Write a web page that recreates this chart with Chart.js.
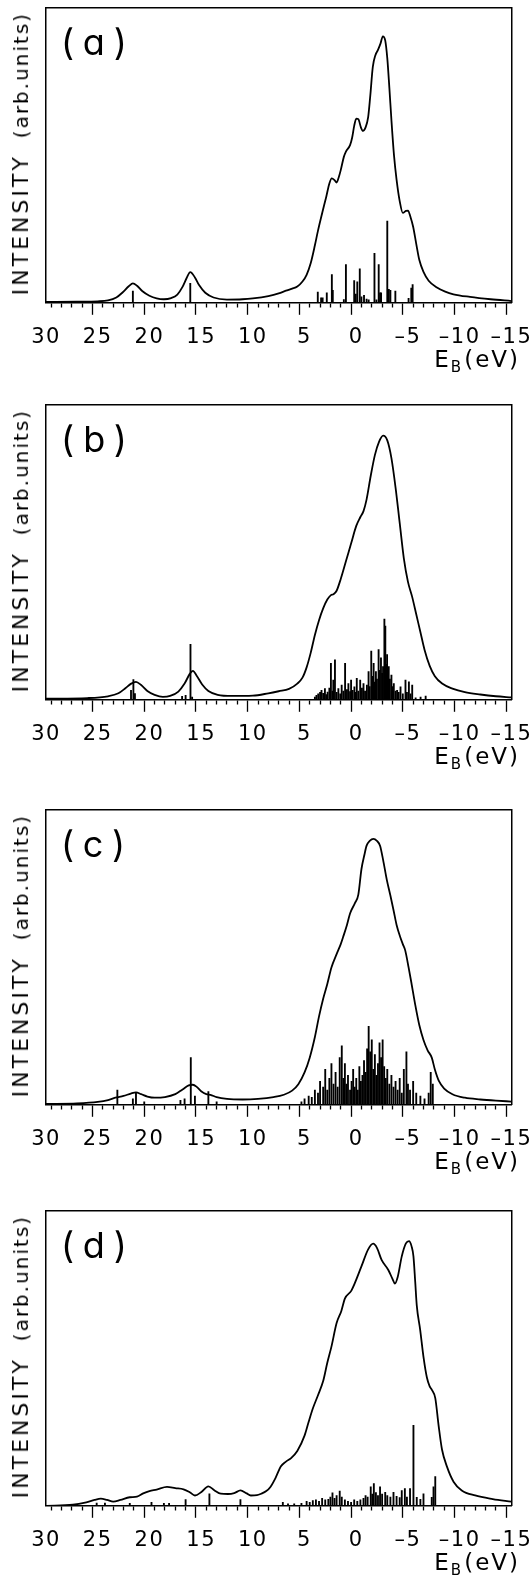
<!DOCTYPE html>
<html>
<head>
<meta charset="utf-8">
<script src="https://cdn.jsdelivr.net/npm/chart.js@4.4.0/dist/chart.umd.min.js"></script>
<style>
body{margin:0;background:#fff;width:530px;height:1576px;position:relative;overflow:hidden}
.panel{position:absolute;left:0;width:530px;height:359px}
.ylab{position:absolute;left:8px;writing-mode:vertical-rl;transform:rotate(180deg);font:20px "DejaVu Sans";letter-spacing:2px;white-space:nowrap;color:#000}
.ylab .big{font-size:22px;letter-spacing:3px;margin-inline-end:16px}
.tag{position:absolute;left:61px;font:36px Inter;font-feature-settings:"cv11";letter-spacing:9px;color:#000}
.eb{position:absolute;right:10px;font:23px "DejaVu Sans";letter-spacing:2px;color:#000}
.eb span{font-size:15px;position:relative;top:5px;letter-spacing:3px}
</style>
</head>
<body>
<script>
// axe des énergies
const majorTicks = [30,25,20,15,10,5,0,-5,-10,-15]
const tickLabels = ['30','25','20','15','10','5','0','–5','–10','–15']
const panelTags = ['(a)','(b)','(c)','(d)']
const panelTops = [8,405,810,1211]

// (a) courbe + raies
const aCurveE = [30,27,25,24,23.2,22.6,22.0,21.6,21.2,20.7,20.0,19.3,18.6,17.9,17.3,16.8,16.4,16.05,15.6,15.2,14.6,13.8,12.5,11,10,8.5,7.5,6.8,6.2,5.7,5.2,4.8,4.4,4.0,3.7,3.3,2.9,2.6,2.37,2.1,1.9,1.7,1.5,1.2,1.0,0.6,0.4,0.2,0.0,-0.2,-0.45,-0.65,-0.9,-1.15,-1.35,-1.6,-1.85,-2.1,-2.35,-2.57,-2.8,-3.0,-3.2,-3.4,-3.65,-3.9,-4.2,-4.5,-4.8,-5.0,-5.25,-5.5,-5.8,-6.1,-6.5,-7.0,-7.8,-8.6,-9.4,-11,-13,-15]
const aCurveI = [0.3,0.4,0.5,0.8,1.8,3.5,5.6,6.6,5.8,4.0,2.4,1.5,1.2,1.6,2.8,5.4,8.4,10.4,8.6,6.0,3.4,1.8,1.1,1.2,1.5,2.3,3.2,4.1,4.8,5.5,7.2,9.5,13.5,19.5,24.5,30.4,36,40.5,42.2,41.6,40.8,42.5,45,49.5,51.3,53.5,56,60,62.5,62.3,59.5,58.3,59.5,63,70,80,84,85.8,88,90.4,89,83,73,62,50,41.7,34.5,30.5,31.2,31.3,29,25.8,20,14.5,10.5,7.5,5.2,3.8,2.9,2.0,1.2,0.6]
const aStickE = [21.6,16.05,3.72,3.4,3.25,2.85,2.36,2.27,1.2,1.0,0.2,0.05,-0.1,-0.34,-0.5,-0.75,-1.0,-1.2,-1.76,-1.95,-2.17,-2.3,-2.4,-3.0,-3.15,-3.3,-3.78,-5.06,-5.32,-5.45]
const aStickH = [4,6.6,3.6,1.7,1.7,3.4,9.6,4.2,1.1,13,7.5,3.0,7.1,11.5,2.0,2.5,1.3,1.0,16.8,1.0,13,3.4,3.4,27.7,4.6,4.2,4.0,1.5,5.0,6.2]

// (b)
const bCurveE = [30,26,24,23,22.3,21.8,21.3,20.8,20.2,19.5,18.7,18,17.2,16.6,16.1,15.8,15.4,14.9,14.3,13.4,12,10,8.5,7.5,6.5,5.7,5.2,4.8,4.4,4.0,3.6,3.2,2.8,2.45,2.2,1.9,1.5,1.0,0.5,0.0,-0.4,-0.7,-1.0,-1.4,-1.8,-2.2,-2.6,-3.0,-3.4,-3.8,-4.2,-4.6,-5.0,-5.4,-5.8,-6.2,-6.6,-7.1,-7.6,-8.3,-9.3,-10.5,-12,-13.5,-15]
const bCurveI = [0.4,0.6,1.2,2.2,4.0,5.4,6.1,5.0,3.0,1.7,1.0,1.3,2.8,5.5,8.8,9.8,8.0,5.2,3.0,1.7,1.3,1.4,2.2,2.9,3.7,5.5,7.5,11,16,22,27,31,34,35.5,35.8,37,41,47,53,59,62,64,68,76,83,87.5,89.6,88,82,72,60,48,40,35,29,23,17,11.5,8.0,5.5,3.8,2.6,1.8,1.2,0.8]
const bStickE = [21.78,21.55,21.4,16.84,16.5,16.03,15.87,4.0,3.85,3.68,3.5,3.36,3.2,3.03,2.9,2.77,2.6,2.45,2.3,2.22,2.06,1.9,1.73,1.55,1.41,1.25,1.08,0.9,0.76,0.6,0.5,0.35,0.18,0.05,-0.05,-0.2,-0.38,-0.55,-0.7,-0.85,-1.03,-1.19,-1.3,-1.45,-1.55,-1.68,-1.8,-1.9,-2.0,-2.16,-2.25,-2.39,-2.5,-2.59,-2.72,-2.81,-2.9,-2.98,-3.14,-3.25,-3.4,-3.5,-3.63,-3.8,-3.95,-4.1,-4.28,-4.5,-4.76,-4.9,-5.09,-5.25,-5.41,-5.74,-6.22,-6.71]
const bStickH = [3.2,6.9,2.1,1.2,1.5,18.8,0.9,0.9,1.5,2.0,2.5,3.2,2.2,3.8,1.8,2.6,4.0,12.4,3.0,6.7,13.6,2.5,3.8,2.0,5.0,3.0,12.4,3.5,5.5,2.8,6.7,3.2,4.4,2.5,7.3,3.0,6.7,4.0,5.5,3.0,5.0,9.6,4.5,16.5,8.0,12.4,6.0,9.6,7.0,17,10,14.2,9.0,11.3,27.4,25,12,15.3,11.3,7.0,8.4,4.5,5.5,3.0,3.2,2.5,4.4,2.0,6.7,2.5,6.1,2.0,5.0,0.7,0.9,1.3]

// (c)
const cCurveE = [30,27,25,24,23.3,22.5,21.8,21.3,20.8,20.2,19.5,18.5,17.5,16.8,16.2,15.8,15.4,15.0,14.5,14.1,13.5,12.5,11,9.5,8,7,6.2,5.6,5.0,4.5,4.0,3.6,3.2,2.8,2.4,1.9,1.5,1.27,0.9,0.6,0.13,-0.2,-0.5,-0.8,-1.0,-1.3,-1.66,-2.0,-2.3,-2.6,-2.95,-3.3,-3.6,-3.9,-4.25,-4.5,-4.74,-5.06,-5.3,-5.7,-6.1,-6.5,-6.9,-7.3,-7.6,-8.0,-8.5,-9.3,-10.5,-12,-13.5,-15]
const cCurveI = [0.3,0.5,1.0,1.6,2.4,3.0,3.8,4.2,3.6,2.8,2.4,2.6,3.6,5.2,6.6,6.8,6.0,4.6,3.6,3.4,2.6,2.0,1.8,2.0,2.6,3.4,4.8,7,11,16,23,30,36,41,46.6,51.1,54.5,56.9,61,64.9,68.4,71.3,79.9,85,87.9,89.5,90.2,89.5,87.9,83,76.4,71,66.1,61,56.9,54.5,52.3,46.6,42,34,27,22,18.5,16,12,8,5.5,3.6,2.4,1.8,1.4,1.1]
const cStickE = [23.1,21.6,21.3,20.5,17.0,16.6,16.0,15.6,14.3,13.5,5.3,5.0,4.6,4.3,4.0,3.7,3.5,3.2,3.0,2.8,2.6,2.4,2.2,2.0,1.8,1.6,1.4,1.25,1.1,0.95,0.8,0.6,0.45,0.3,0.15,0.0,-0.15,-0.3,-0.45,-0.6,-0.75,-0.9,-1.05,-1.2,-1.35,-1.5,-1.65,-1.8,-1.95,-2.1,-2.25,-2.4,-2.55,-2.7,-2.85,-3.0,-3.2,-3.4,-3.6,-3.8,-4.0,-4.2,-4.4,-4.6,-4.85,-5.0,-5.2,-5.5,-5.8,-6.2,-6.6,-7.0,-7.2,-7.4]
const cStickH = [5,2,4,1,1.5,2,16,3,4.5,1,1,2,3,2.5,5,4,8,6,12,5,9,14,7,11,6,16,20,9,14,7,10,5,8,12,6,9,5,13,8,10,15,11,19,26.6,18,22,12,17,10,14,21,16,22,13,9,12,7,10,6,8,5,9,4,12,18,7,5,8,4,3,2,4,11,7]

// (d)
const dCurveE = [30,27.4,26.1,25.3,24.7,24.1,23.5,22.8,21.9,21.2,20.6,20.0,19.3,18.3,17.5,16.7,16.1,15.6,15.0,14.3,13.7,13.1,12.4,11.8,11.2,10.6,10.2,9.6,9.2,8.7,8.3,7.8,7.3,6.8,6.3,5.7,5.0,4.6,4.2,3.7,3.2,2.8,2.4,1.9,1.45,1.1,0.47,-0.5,-1.15,-1.64,-2.0,-2.45,-3.1,-3.5,-3.74,-4.0,-4.4,-4.8,-5.1,-5.35,-5.53,-5.7,-5.85,-6.18,-6.5,-6.83,-7.1,-7.3,-7.64,-7.96,-8.29,-8.77,-9.42,-10.2,-11.5,-13.2,-15]
const dCurveI = [0,0.35,1.2,2.0,2.4,2.0,1.4,2.0,2.9,3.1,4.2,5.0,5.5,6.4,6.0,5.6,4.6,3.5,4.6,6.6,5.2,4.1,4.0,4.3,5.2,4.2,3.5,3.6,4.1,5.0,6.4,9.5,13.3,15,16.2,18.6,23.8,28.5,33,37.5,42.3,48.5,54,62,66,70.3,73,81.2,87,88.9,87.5,83.4,80,77,75.4,77.5,84.6,89,89.8,88,84.6,76,68,59.7,50.5,43.5,40.5,39.4,36.5,27.3,19.1,13.3,8.1,5.2,3.5,2.3,1.4]
const dStickE = [25.1,24.3,21.9,19.8,18.6,18.1,16.5,14.2,11.2,7.1,6.6,6.0,5.3,4.8,4.5,4.2,3.9,3.6,3.3,3.0,2.7,2.5,2.3,2.1,1.9,1.6,1.4,1.1,0.8,0.5,0.2,-0.1,-0.4,-0.7,-0.9,-1.1,-1.4,-1.55,-1.7,-1.9,-2.1,-2.3,-2.5,-2.8,-3.0,-3.3,-3.6,-3.9,-4.2,-4.4,-4.7,-4.9,-5.2,-5.53,-5.85,-6.2,-6.5,-7.3,-7.47,-7.64]
const dStickH = [0.9,0.9,0.8,1.2,0.8,0.8,2.1,4.1,2.1,1.2,0.7,0.7,0.8,1.5,1.2,1.8,2.0,1.5,2.5,2.0,2.2,3.0,4.4,2.5,3.5,5.0,3.0,2.0,1.5,1.2,2.0,1.5,2.0,2.5,3.5,3.0,6.4,4.0,7.5,4.5,3.5,6.4,4.0,4.6,3.5,3.0,4.6,3.2,2.8,5.2,5.8,3.0,5.8,27.3,2.9,2.2,4.1,2.9,6.4,9.9]

function pts(xs,ys){
return xs.map((x,i)=>({x:x,y:ys[i]}))
}

function frameAxis(pos){
let horiz = pos=='top'
return {
type:'linear',position:pos,min:horiz?-15:0,max:horiz?30:100,
reverse:horiz,
ticks:{display:false},
grid:{display:false,drawTicks:false},
border:{display:true,color:'#000',width:1.5}
}
}

// espacement des chiffres sur l'axe
const spacing = {
id:'spacing',
beforeDraw(chart){ chart.ctx.letterSpacing='1.5px' },
afterDraw(chart){ chart.ctx.letterSpacing='0px' }
}

function makePanel(n,curveE,curveI,stickE,stickH){

let top = panelTops[n]

let div = document.createElement('div')
div.className='panel'
div.style.top=(top-6)+'px'
let cv = document.createElement('canvas')
cv.width=530
cv.height=359
div.appendChild(cv)
document.body.appendChild(div)

new Chart(cv,{
type:'scatter',
data:{
datasets:[
{type:'line',data:pts(curveE,curveI),borderColor:'#000',borderWidth:1.8,pointRadius:0,cubicInterpolationMode:'monotone',fill:false},
{type:'bar',data:pts(stickE,stickH),backgroundColor:'#000',borderWidth:0,barThickness:1.2,grouped:false}
]
},
plugins:[spacing],
options:{
responsive:false,
animation:false,
events:[],
layout:{padding:{top:6,left:46,right:18,bottom:0}},
plugins:{legend:{display:false},tooltip:{enabled:false}},
scales:{
x:{
type:'linear',position:'bottom',min:-15,max:30,reverse:true,offset:false,
ticks:{
stepSize:1,autoSkip:false,maxRotation:0,minRotation:0,padding:0,color:'#000',
font:{family:'DejaVu Sans',size:21,lineHeight:2.2},
callback:v=>{let k=majorTicks.indexOf(v); return k<0?'':tickLabels[k]}
},
grid:{
drawOnChartArea:false,drawTicks:true,tickLength:12,tickColor:'#000',tickWidth:1.3,
tickBorderDash:c=>(c.tick && c.tick.value%5==0)?[]:[4,40]
},
border:{display:true,color:'#000',width:1.5}
},
xTop:frameAxis('top'),
y:frameAxis('left'),
yRight:frameAxis('right')
}
}
})

// textes
let t = document.createElement('div')
t.className='tag'
t.style.top=(top+12)+'px'
t.textContent=panelTags[n]
document.body.appendChild(t)

let yl = document.createElement('div')
yl.className='ylab'
yl.style.top=(top+4)+'px'
yl.innerHTML='<span class="big">INTENSITY</span>(arb.units)'
document.body.appendChild(yl)

let eb = document.createElement('div')
eb.className='eb'
eb.style.top=(top+338)+'px'
eb.innerHTML='E<span>B</span>(eV)'
document.body.appendChild(eb)

}

makePanel(0,aCurveE,aCurveI,aStickE,aStickH)
makePanel(1,bCurveE,bCurveI,bStickE,bStickH)
makePanel(2,cCurveE,cCurveI,cStickE,cStickH)
makePanel(3,dCurveE,dCurveI,dStickE,dStickH)
</script>
</body>
</html>
